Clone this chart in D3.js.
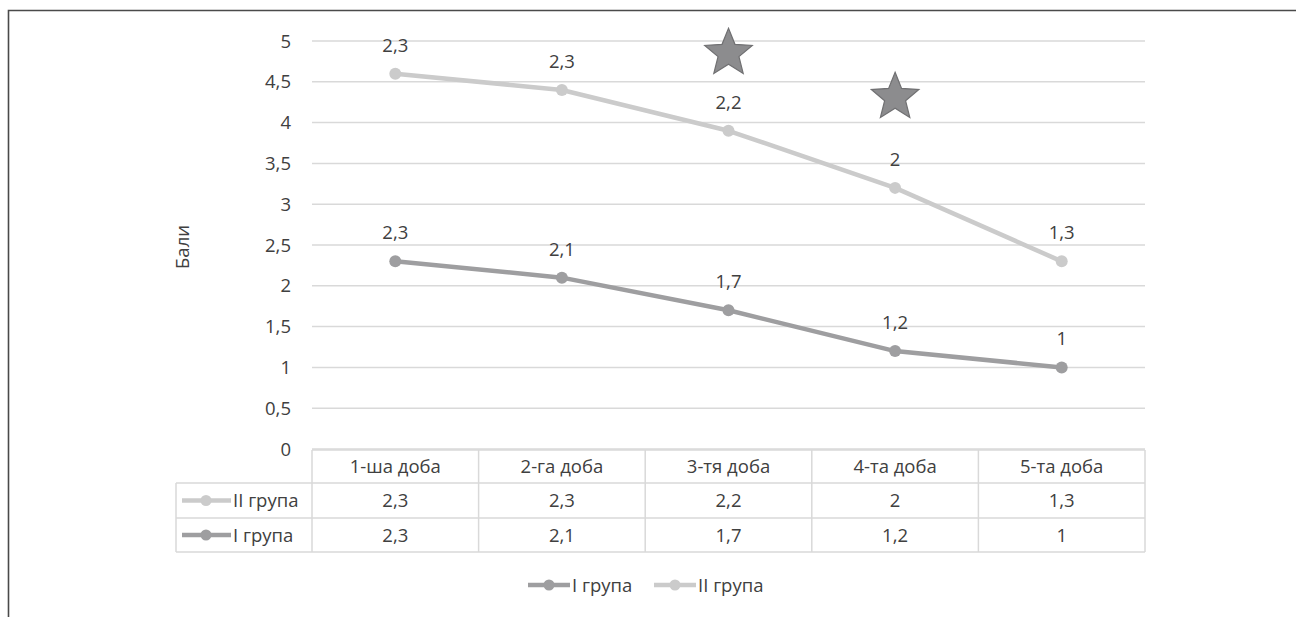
<!DOCTYPE html>
<html><head><meta charset="utf-8">
<script src="https://cdn.jsdelivr.net/npm/d3@7"></script>
<style>
html,body{margin:0;padding:0;background:#fff;}
svg{display:block;font-family:"Open Sans","Noto Sans",sans-serif;}
</style></head>
<body><svg id="c" width="1296" height="617"></svg>
<script>
const categories = ["1-ша доба","2-га доба","3-тя доба","4-та доба","5-та доба"];
const group1 = [2.3, 2.1, 1.7, 1.2, 1];
const group2 = [2.3, 2.3, 2.2, 2, 1.3];
const seriesNames = ["I група","II група"];
const yTicks = [0,0.5,1,1.5,2,2.5,3,3.5,4,4.5,5];
const starCats = ["3-тя доба","4-та доба"];
const starValues = [4.85, 4.31];

const colI = "#9e9ea0", colII = "#cbcbcb", txt = "#404040", grid = "#d9d9d9";
const FS = 18.5;
const fmt = v => String(v).replace(".", ",");

const svg = d3.select("#c");
// outer frame
svg.append("path").attr("d","M8.5,620 L8.5,10.5 L1300,10.5")
  .attr("fill","none").attr("stroke","#4a4a4a").attr("stroke-width",1.6);

const x = d3.scaleBand().domain(categories).range([312,1145]);
const y = d3.scaleLinear().domain([0,5]).range([449,41]);
const cx = c => x(c) + x.bandwidth()/2;

// gridlines
svg.append("g").selectAll("line").data(yTicks).join("line")
  .attr("x1",312).attr("x2",1145).attr("y1",d=>y(d)).attr("y2",d=>y(d))
  .attr("stroke",grid).attr("stroke-width",1.5);
// y labels
svg.append("g").selectAll("text").data(yTicks).join("text")
  .attr("x",291).attr("y",d=>y(d)).attr("dy","0.36em").attr("text-anchor","end")
  .attr("fill",txt).attr("font-size",FS).text(fmt);
// y title
svg.append("text").attr("transform","translate(189,247) rotate(-90)")
  .attr("text-anchor","middle").attr("fill",txt).attr("font-size",FS).text("Бали");

// stacked values
const stack2 = group2.map((v,i)=>+(v+group1[i]).toFixed(2));
const line = d3.line().x((d,i)=>cx(categories[i])).y(d=>y(d));

function drawSeries(vals, labels, col){
  svg.append("path").attr("d",line(vals)).attr("fill","none")
    .attr("stroke",col).attr("stroke-width",4.5).attr("stroke-linejoin","round");
  svg.append("g").selectAll("circle").data(vals).join("circle")
    .attr("cx",(d,i)=>cx(categories[i])).attr("cy",d=>y(d)).attr("r",6).attr("fill",col);
  svg.append("g").selectAll("text").data(labels).join("text")
    .attr("x",(d,i)=>cx(categories[i])).attr("y",(d,i)=>y(vals[i])-22)
    .attr("text-anchor","middle").attr("fill",txt).attr("font-size",FS).text(fmt);
}
drawSeries(stack2, group2, colII);
drawSeries(group1, group1, colI);

// stars
function starPath(cxv, cyv, R, r){
  const pts=[];
  for(let k=0;k<10;k++){
    const a = -Math.PI/2 + k*Math.PI/5;
    const rr = k%2===0?R:r;
    pts.push([cxv+rr*Math.cos(a), cyv+rr*Math.sin(a)]);
  }
  return "M"+pts.map(p=>p.join(",")).join("L")+"Z";
}
svg.append("g").selectAll("path").data(starCats).join("path")
  .attr("d",(c,i)=>starPath(cx(c), y(starValues[i]), 25, 11))
  .attr("fill","#8c8c8e").attr("stroke","#707072").attr("stroke-width",1.2);

// data table
const tg = svg.append("g");
const rowsY = [450,483,518,552];
const tableLeft = 176;
tg.append("line").attr("x1",312).attr("x2",1145).attr("y1",rowsY[0]).attr("y2",rowsY[0]);
[1,2,3].forEach(k=>tg.append("line").attr("x1",tableLeft).attr("x2",1145).attr("y1",rowsY[k]).attr("y2",rowsY[k]));
tg.append("line").attr("x1",tableLeft).attr("x2",tableLeft).attr("y1",rowsY[1]).attr("y2",rowsY[3]);
categories.forEach(c=>{
  tg.append("line").attr("x1",x(c)).attr("x2",x(c)).attr("y1",rowsY[0]).attr("y2",rowsY[3]);
});
tg.append("line").attr("x1",1145).attr("x2",1145).attr("y1",rowsY[0]).attr("y2",rowsY[3]);
tg.selectAll("line").attr("stroke",grid).attr("stroke-width",1.5);

tg.append("g").selectAll("text").data(categories).join("text")
  .attr("x",c=>cx(c)).attr("y",(rowsY[0]+rowsY[1])/2).attr("dy","0.36em")
  .attr("text-anchor","middle").attr("fill",txt).attr("font-size",FS).text(c=>c);
const tableRows = [{name:seriesNames[1], vals:group2, col:colII},{name:seriesNames[0], vals:group1, col:colI}];
tableRows.forEach((r,k)=>{
  const yc = (rowsY[k+1]+rowsY[k+2])/2;
  tg.append("line").attr("x1",182).attr("x2",231).attr("y1",yc).attr("y2",yc)
    .attr("stroke",r.col).attr("stroke-width",4.5);
  tg.append("circle").attr("cx",206).attr("cy",yc).attr("r",5.5).attr("fill",r.col);
  tg.append("text").attr("x",233).attr("y",yc).attr("dy","0.36em").attr("fill",txt)
    .attr("font-size",FS).text(r.name);
  tg.append("g").selectAll("text").data(r.vals).join("text")
    .attr("x",(d,i)=>cx(categories[i])).attr("y",yc).attr("dy","0.36em")
    .attr("text-anchor","middle").attr("fill",txt).attr("font-size",FS).text(fmt);
});

// legend
const legend = [{name:seriesNames[0], col:colI, x0:528},{name:seriesNames[1], col:colII, x0:654}];
legend.forEach(l=>{
  const ly = 585;
  svg.append("line").attr("x1",l.x0).attr("x2",l.x0+42).attr("y1",ly).attr("y2",ly)
    .attr("stroke",l.col).attr("stroke-width",4.5);
  svg.append("circle").attr("cx",l.x0+21).attr("cy",ly).attr("r",5.5).attr("fill",l.col);
  svg.append("text").attr("x",l.x0+44).attr("y",ly).attr("dy","0.36em").attr("fill",txt)
    .attr("font-size",FS).text(l.name);
});
</script></body></html>
